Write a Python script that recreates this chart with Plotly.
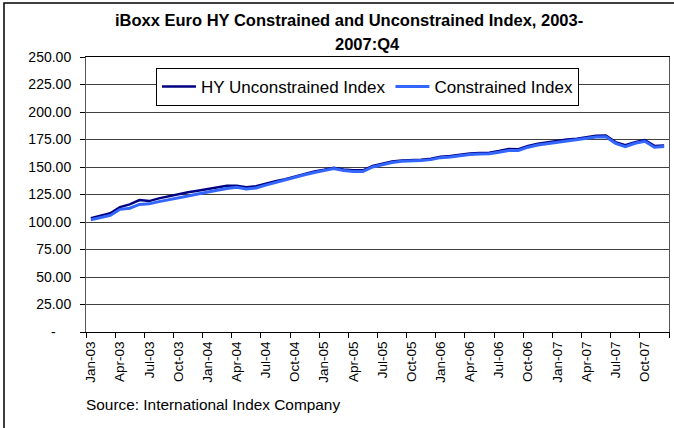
import plotly.graph_objects as go

months = ["Jan", "Feb", "Mar", "Apr", "May", "Jun", "Jul", "Aug", "Sep", "Oct", "Nov", "Dec"]
years = ["03", "04", "05", "06", "07"]
categories = [f"{m}-{y}" for y in years for m in months]

unconstrained = [103.5, 105.5, 108.0, 113.5, 116.0, 120.0, 119.0, 121.5, 123.5, 125.0,
                 127.0, 128.5, 130.0, 131.0, 133.0, 133.0, 131.5, 132.5, 135.0, 137.0,
                 139.0, 141.5, 143.8, 146.0, 147.5, 149.3, 147.8, 147.0, 147.0, 151.0,
                 153.0, 155.0, 156.0, 156.2, 156.6, 157.5, 159.3, 160.0, 161.2, 162.3,
                 162.8, 163.0, 164.5, 166.3, 166.2, 169.2, 171.2, 172.5, 173.8, 175.0,
                 175.7, 177.0, 178.4, 178.6, 172.6, 169.8, 172.6, 174.5, 169.2, 169.6]

constrained = [102.0, 104.0, 106.0, 111.5, 112.5, 116.0, 116.5, 118.5, 120.0, 121.8,
               123.6, 125.5, 127.5, 128.8, 130.5, 131.5, 130.0, 131.0, 133.5, 136.0,
               138.0, 140.5, 143.0, 145.0, 146.8, 148.5, 146.8, 146.0, 146.0, 150.0,
               152.0, 154.0, 155.2, 155.3, 155.8, 156.7, 158.5, 159.0, 160.3, 161.3,
               161.8, 162.0, 163.5, 165.0, 165.0, 168.0, 170.0, 171.2, 172.6, 173.8,
               174.6, 176.0, 177.2, 177.5, 171.5, 168.5, 171.6, 173.4, 168.0, 168.6]

y_tickvals = [0, 25, 50, 75, 100, 125, 150, 175, 200, 225, 250]
y_ticktext = ["-\u00a0\u00a0\u00a0\u00a0", "25.00", "50.00", "75.00", "100.00", "125.00",
              "150.00", "175.00", "200.00", "225.00", "250.00"]

title_line1 = "iBoxx Euro HY Constrained and Unconstrained Index, 2003-"
title_line2 = "2007:Q4"
source_text = "Source: International Index Company"

FONT = "Liberation Sans, Arial, sans-serif"

fig = go.Figure()
fig.add_trace(go.Scatter(x=categories, y=unconstrained, mode="lines",
                         name="HY Unconstrained Index",
                         line=dict(color="#000080", width=2.5)))
fig.add_trace(go.Scatter(x=categories, y=constrained, mode="lines",
                         name="Constrained Index",
                         line=dict(color="#3366FF", width=3)))

fig.update_layout(
    width=674, height=428,
    margin=dict(l=86, r=5, t=57, b=96),
    paper_bgcolor="white", plot_bgcolor="white",
    font=dict(family=FONT, color="black"),
    showlegend=True,
    legend=dict(orientation="h", x=0.12, y=0.96, xanchor="left", yanchor="top",
                bgcolor="white", bordercolor="black", borderwidth=1,
                font=dict(size=17, family=FONT), itemwidth=34),
    xaxis=dict(type="category", range=[-0.5, 59.5], dtick=3, tick0=0,
               tickson="boundaries", ticks="outside", ticklen=5, tickcolor="black",
               tickangle=-90, tickfont=dict(size=13.5, family=FONT),
               showgrid=False, showline=True, linecolor="black", linewidth=1,
               mirror=True, zeroline=False, ticklabelstandoff=3),
    yaxis=dict(range=[0, 250], tickvals=y_tickvals, ticktext=y_ticktext,
               ticks="outside", ticklen=5, tickcolor="black",
               tickfont=dict(size=14, family=FONT),
               showgrid=True, gridcolor="#404040", gridwidth=1,
               showline=True, linecolor="#555555", linewidth=1, mirror=True,
               zeroline=False, ticklabelstandoff=6),
    annotations=[
        dict(text="<b>" + title_line1 + "</b>", x=0.451, y=1.1345, xref="paper", yref="paper",
             xanchor="center", yanchor="middle", showarrow=False,
             font=dict(size=16.5, family=FONT)),
        dict(text="<b>" + title_line2 + "</b>", x=0.482, y=1.047, xref="paper", yref="paper",
             xanchor="center", yanchor="middle", showarrow=False,
             font=dict(size=16.5, family=FONT)),
        dict(text=source_text, x=-0.003, y=-0.265, xref="paper", yref="paper",
             xanchor="left", yanchor="middle", showarrow=False,
             font=dict(size=15.4, family=FONT)),
    ],
    shapes=[
        dict(type="rect", xref="paper", yref="paper",
             x0=(4 - 86) / 583, x1=(680 - 86) / 583,
             y0=(332 - 440) / 275, y1=1 + (57 - 3) / 275,
             line=dict(color="black", width=1.5), fillcolor="rgba(0,0,0,0)", layer="below"),
    ],
)

fig.write_html("out.html", config={"displayModeBar": False},
               post_script="document.body.style.margin='0';document.body.style.overflow='hidden';")
